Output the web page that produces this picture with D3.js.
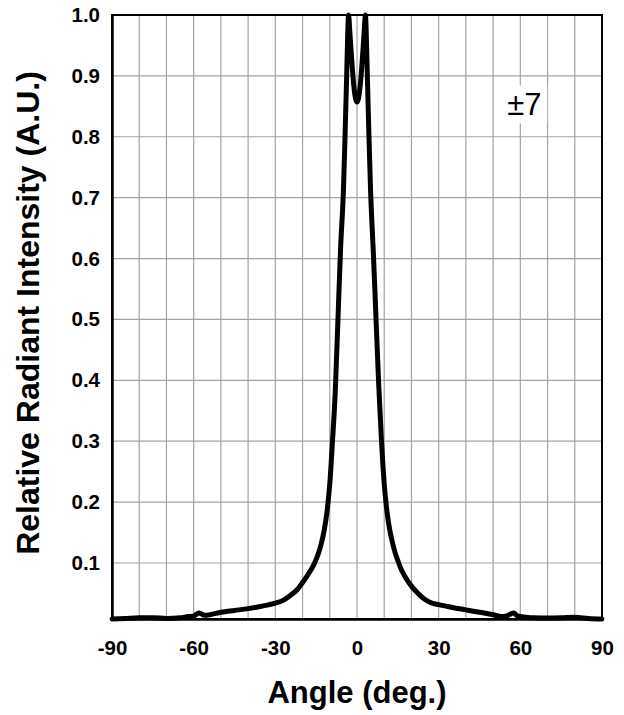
<!DOCTYPE html>
<html>
<head>
<meta charset="utf-8">
<script src="https://cdn.jsdelivr.net/npm/d3@7"></script>
<style>
  body { margin: 0; background: #fff; }
  text { font-family: "Liberation Sans", Arial, sans-serif; }
</style>
</head>
<body>
<svg id="chart" width="624" height="715"></svg>
<script>
// radiant intensity pattern
const angles = [-90, -85, -80, -75, -70, -65, -62, -60, -58, -56, -54, -50, -45, -40, -35, -30,
  -27, -25, -22, -20, -18, -16, -15, -14, -13, -12, -11, -10, -9, -8, -7, -6, -5, -4.4, -3.8,
  -3.4, -3.1, -2.6, -2.0, -1.2, -0.5, 0, 0.5, 1.2, 2.0, 2.6, 3.1, 3.4, 3.8, 4.4, 5, 6, 7, 8, 9,
  10, 11, 12, 13, 14, 15, 16, 18, 20, 22, 25, 27, 30, 35, 40, 45, 50, 53, 55, 57.5, 59, 62, 65,
  70, 75, 80, 85, 90];
const intensity = [0.008, 0.009, 0.010, 0.010, 0.009, 0.010, 0.012, 0.013, 0.018, 0.014, 0.015,
  0.019, 0.022, 0.025, 0.029, 0.034, 0.039, 0.045, 0.056, 0.068, 0.081, 0.096, 0.106, 0.118,
  0.134, 0.155, 0.185, 0.23, 0.30, 0.38, 0.50, 0.62, 0.71, 0.80, 0.90, 0.97, 1.0, 0.97, 0.93,
  0.885, 0.862, 0.857, 0.862, 0.885, 0.93, 0.97, 1.0, 0.97, 0.90, 0.80, 0.71, 0.61, 0.50, 0.39,
  0.30, 0.23, 0.185, 0.155, 0.134, 0.117, 0.104, 0.092, 0.075, 0.062, 0.052, 0.040, 0.035,
  0.0315, 0.027, 0.023, 0.019, 0.015, 0.012, 0.013, 0.018, 0.013, 0.011, 0.010, 0.0097, 0.010,
  0.0107, 0.009, 0.008];

const xTicks = [-90, -60, -30, 0, 30, 60, 90];
const yTicks = [0.1, 0.2, 0.3, 0.4, 0.5, 0.6, 0.7, 0.8, 0.9, 1.0];
const xGrid = d3.range(-80, 90, 10);
const yGrid = [0.1, 0.2, 0.3, 0.4, 0.5, 0.6, 0.7, 0.8, 0.9];
const label = "±7";

const margin = {top: 15, left: 112, right: 22, bottom: 96};
const width = 624 - margin.left - margin.right;
const height = 715 - margin.top - margin.bottom;

const svg = d3.select("#chart");
const g = svg.append("g").attr("transform", `translate(${margin.left},${margin.top})`);

const x = d3.scaleLinear().domain([-90, 90]).range([0, width]);
const y = d3.scaleLinear().domain([0.008, 1.0]).range([height, 0]);

// grid
g.append("g").selectAll("line").data(xGrid).join("line")
  .attr("x1", d => x(d)).attr("x2", d => x(d))
  .attr("y1", 0).attr("y2", height)
  .attr("stroke", "#a3a3a3").attr("stroke-width", 1.2);
g.append("g").selectAll("line").data(yGrid).join("line")
  .attr("x1", 0).attr("x2", width)
  .attr("y1", d => y(d)).attr("y2", d => y(d))
  .attr("stroke", "#a3a3a3").attr("stroke-width", 1.2);

// label box
const lx = x(55.2), ly = y(0.835);
g.append("rect").attr("x", lx - 8).attr("y", ly - 30).attr("width", 48).attr("height", 38)
  .attr("fill", "#fff");
g.append("text").attr("x", lx).attr("y", ly)
  .attr("font-size", 31).text(label);

// frame
g.append("rect").attr("width", width).attr("height", height)
  .attr("fill", "none").attr("stroke", "#000").attr("stroke-width", 2);

// axes
const xAxis = d3.axisBottom(x).tickValues(xTicks).tickSize(0).tickPadding(21)
  .tickFormat(d => String(d));
const yAxis = d3.axisLeft(y).tickValues(yTicks).tickSize(0).tickPadding(12)
  .tickFormat(d3.format(".1f"));

g.append("g").attr("transform", `translate(0,${height})`).call(xAxis)
  .call(s => s.select(".domain").attr("stroke-width", 2.5));
g.append("g").call(yAxis)
  .call(s => s.select(".domain").attr("stroke-width", 2.5));
g.selectAll(".tick text")
  .attr("font-family", "'Liberation Sans', Arial, sans-serif")
  .attr("font-size", 20.5).attr("font-weight", "bold").attr("fill", "#000");

// curve
const line = d3.line()
  .x((d, i) => x(angles[i]))
  .y(d => y(d))
  .curve(d3.curveMonotoneX);
g.append("path").datum(intensity)
  .attr("d", line)
  .attr("fill", "none").attr("stroke", "#000").attr("stroke-width", 5)
  .attr("stroke-linejoin", "round").attr("stroke-linecap", "round");

// titles
svg.append("text")
  .attr("x", margin.left + width / 2).attr("y", 703)
  .attr("text-anchor", "middle").attr("font-size", 31).attr("font-weight", "bold")
  .text("Angle (deg.)");
svg.append("text")
  .attr("transform", `translate(39,${margin.top + height / 2 - 4}) rotate(-90)`)
  .attr("text-anchor", "middle").attr("font-size", 32).attr("font-weight", "bold")
  .text("Relative Radiant Intensity (A.U.)");
</script>
</body>
</html>
